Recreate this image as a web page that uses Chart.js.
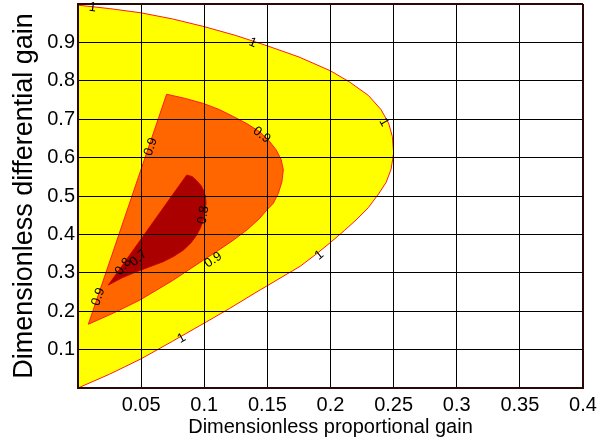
<!DOCTYPE html>
<html>
<head>
<meta charset="utf-8">
<script src="https://cdn.jsdelivr.net/npm/chart.js@4.4.1/dist/chart.umd.min.js"></script>
<style>
  html, body { margin: 0; padding: 0; background: #fff; }
  #wrap { width: 606px; height: 443px; }
</style>
</head>
<body>
<div id="wrap"><canvas id="gain-map"></canvas></div>
<script>
// axis ticks
let xTicks = [0, 0.05, 0.1, 0.15, 0.2, 0.25, 0.3, 0.35, 0.4];
let xTickLabels = ["", "0.05", "0.1", "0.15", "0.2", "0.25", "0.3", "0.35", "0.4"];
let yTicks = [0, 0.1, 0.2, 0.3, 0.4, 0.5, 0.6, 0.7, 0.8, 0.9, 1];
let yTickLabels = ["", "0.1", "0.2", "0.3", "0.4", "0.5", "0.6", "0.7", "0.8", "0.9", ""];

// contour level 1 (closed along Kp = 0)
let level1Kp = [0, 0.025, 0.05, 0.075, 0.1, 0.125, 0.15, 0.175, 0.2, 0.215, 0.23, 0.24, 0.246, 0.249, 0.25,
  0.248, 0.244, 0.238, 0.23, 0.221, 0.211, 0.2, 0.188, 0.176, 0.16, 0.14, 0.12, 0.1, 0.075, 0.05, 0.025, 0, 0];
let level1Kd = [0.997, 0.988, 0.977, 0.961, 0.941, 0.918, 0.891, 0.862, 0.826, 0.797, 0.762, 0.725, 0.69, 0.655, 0.612,
  0.57, 0.535, 0.505, 0.47, 0.44, 0.41, 0.379, 0.347, 0.317, 0.286, 0.247, 0.207, 0.169, 0.122, 0.076, 0.036, 0, 0.997];

// contour level 0.9
let level09Kp = [0.0082, 0.0702, 0.085, 0.0993, 0.112, 0.123, 0.134, 0.144, 0.151, 0.157, 0.161, 0.1626, 0.1615,
  0.1587, 0.1547, 0.1495, 0.144, 0.134, 0.123, 0.111, 0.0993, 0.075, 0.049, 0.028, 0.0082];
let level09Kd = [0.166, 0.765, 0.754, 0.741, 0.725, 0.707, 0.688, 0.667, 0.645, 0.62, 0.594, 0.568, 0.537,
  0.507, 0.481, 0.4635, 0.442, 0.412, 0.385, 0.358, 0.333, 0.28, 0.229, 0.195, 0.166];

// contour level 0.8
let level08Kp = [0.024, 0.0861, 0.0905, 0.094, 0.0975, 0.0993, 0.101, 0.1014, 0.1005, 0.0993, 0.097, 0.094,
  0.0895, 0.0834, 0.076, 0.0676, 0.057, 0.0465, 0.035, 0.024];
let level08Kd = [0.268, 0.5547, 0.5505, 0.54, 0.527, 0.5156, 0.498, 0.481, 0.458, 0.4375, 0.417, 0.398,
  0.378, 0.359, 0.343, 0.329, 0.316, 0.303, 0.287, 0.268];

// inline contour labels
let labelText = ["1", "1", "1", "1", "1", "0.9", "0.9", "0.9", "0.9", "0.8", "0.8", "0.7"];
let labelKp = [0.0116, 0.1384, 0.2424, 0.1911, 0.0821, 0.0161, 0.0576, 0.1455, 0.1072, 0.0993, 0.0359, 0.0478];
let labelKd = [0.991, 0.899, 0.692, 0.346, 0.129, 0.2378, 0.628, 0.659, 0.3333, 0.4505, 0.316, 0.3378];
let labelAngle = [8, 22, 60, -39, -30, -71, -71, 37, -34, -81, -52, -40];

const FRAME = "#2a0808";
const FONT = "'Liberation Sans', Arial, Helvetica, sans-serif";

function toPoints(kp, kd) {
  return kp.map(function (x, i) { return { x: x, y: kd[i] }; });
}

function region(label, kp, kd, fillColor, lineColor, order) {
  return {
    label: label,
    data: toPoints(kp, kd),
    showLine: true,
    fill: "shape",
    backgroundColor: fillColor,
    borderColor: lineColor,
    borderWidth: 1,
    pointRadius: 0,
    tension: 0,
    order: order,
  };
}

// writes the level values along the contour lines
const contourLabels = {
  id: "contourLabels",
  afterDraw: function (chart) {
    const ctx = chart.ctx;
    const xs = chart.scales.x;
    const ys = chart.scales.y;
    ctx.save();
    ctx.font = "13px " + FONT;
    ctx.fillStyle = "#000";
    ctx.textAlign = "center";
    ctx.textBaseline = "middle";
    labelText.forEach(function (t, i) {
      ctx.save();
      ctx.translate(xs.getPixelForValue(labelKp[i]), ys.getPixelForValue(labelKd[i]));
      ctx.rotate(labelAngle[i] * Math.PI / 180);
      ctx.fillText(t, 0, 0);
      ctx.restore();
    });
    ctx.restore();
  },
};

let canvas = document.getElementById("gain-map");
let gainChart = new Chart(canvas.getContext("2d"), {
  type: "scatter",
  data: {
    datasets: [
      region("1", level1Kp, level1Kd, "#ffff00", "#ff1a1a", 3),
      region("0.9", level09Kp, level09Kd, "#ff6600", "#ff1a1a", 2),
      region("0.8", level08Kp, level08Kd, "#aa0000", "#d00000", 1),
    ],
  },
  options: {
    responsive: true,
    maintainAspectRatio: false,
    animation: false,
    layout: { padding: { top: 4, right: 23, left: 0, bottom: 0 } },
    plugins: { legend: { display: false }, tooltip: { enabled: false } },
    scales: {
      x: {
        type: "linear",
        min: 0,
        max: 0.4,
        afterBuildTicks: function (s) { s.ticks = xTicks.map(function (v) { return { value: v }; }); },
        afterFit: function (s) { s.height = 55; s.paddingLeft = 0; s.paddingRight = 0; },
        ticks: {
          autoSkip: false,
          maxRotation: 0,
          padding: 5,
          color: "#000",
          font: { family: FONT, size: 20 },
          callback: function (v, i) { return xTickLabels[i]; },
        },
        grid: {
          z: 1,
          drawTicks: false,
          color: function (c) { return c.tick && Math.abs(c.tick.value - 0.4) < 1e-6 ? FRAME : "#000"; },
          lineWidth: function (c) { return c.tick && Math.abs(c.tick.value - 0.4) < 1e-6 ? 2 : 1; },
        },
        border: { z: 2, color: FRAME, width: 2 },
        title: {
          display: true,
          text: "Dimensionless proportional gain",
          color: "#000",
          font: { family: FONT, size: 20 },
          padding: { top: 0, bottom: 4 },
        },
      },
      y: {
        type: "linear",
        min: 0,
        max: 1,
        afterBuildTicks: function (s) { s.ticks = yTicks.map(function (v) { return { value: v }; }); },
        afterFit: function (s) { s.width = 78; s.paddingTop = 0; s.paddingBottom = 0; },
        ticks: {
          autoSkip: false,
          padding: 3,
          color: "#000",
          font: { family: FONT, size: 20 },
          callback: function (v, i) { return yTickLabels[i]; },
        },
        grid: {
          z: 1,
          drawTicks: false,
          color: function (c) { return c.tick && c.tick.value === 1 ? FRAME : "#000"; },
          lineWidth: function (c) { return c.tick && c.tick.value === 1 ? 2 : 1; },
        },
        border: { z: 2, color: FRAME, width: 2 },
        title: {
          display: true,
          text: "Dimensionless differential gain",
          color: "#000",
          font: { family: FONT, size: 27 },
          padding: { top: 8, bottom: 0 },
        },
      },
    },
  },
  plugins: [contourLabels],
});
</script>
</body>
</html>
